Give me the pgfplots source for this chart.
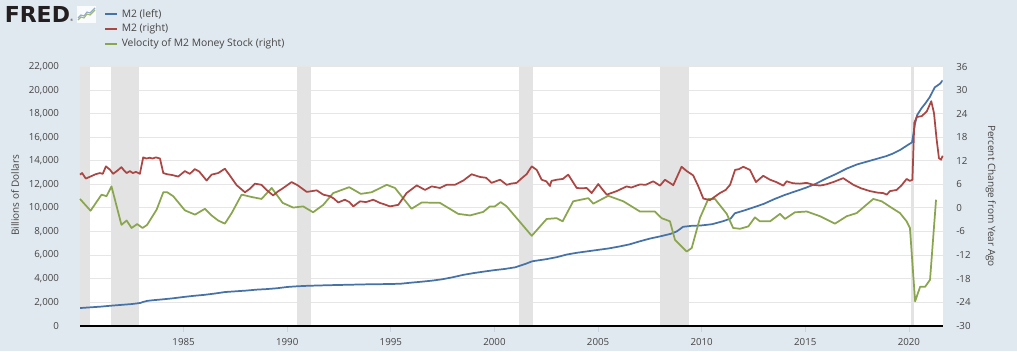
\documentclass[border=0pt]{standalone}
\usepackage{pgfplots}
\usepackage{pgfplotstable}
\pgfplotsset{compat=1.18}
\usepackage{fontspec}
\setmainfont{Open Sans}
\newfontfamily\fredfont{DejaVu Sans}
\definecolor{bg}{HTML}{E1E9F0}
\definecolor{m2blue}{HTML}{4572A7}
\definecolor{m2red}{HTML}{AA4643}
\definecolor{velgreen}{HTML}{89A54E}
\definecolor{gridc}{HTML}{E6E6E6}
\definecolor{recess}{HTML}{E3E3E3}
\definecolor{txt}{HTML}{444444}
\definecolor{tickc}{HTML}{C8D4DF}
\definecolor{logoc}{HTML}{231F20}

\pgfplotstableread{
year val
1980.00 1500
1980.50 1560
1981.00 1620
1981.50 1700
1982.00 1770
1982.50 1840
1982.90 1930
1983.05 2020
1983.25 2110
1983.50 2160
1984.00 2240
1984.50 2330
1985.00 2440
1985.50 2540
1986.00 2620
1986.50 2730
1987.00 2860
1987.50 2920
1988.00 2980
1988.50 3060
1989.00 3110
1989.50 3180
1990.00 3290
1990.50 3350
1991.00 3390
1992.00 3440
1993.00 3480
1994.00 3520
1995.00 3540
1995.50 3570
1996.00 3660
1996.50 3740
1997.00 3830
1997.50 3950
1998.00 4120
1998.50 4320
1999.00 4470
1999.50 4600
2000.00 4720
2000.50 4820
2001.00 4960
2001.50 5250
2001.80 5460
2002.00 5520
2002.50 5650
2003.00 5820
2003.50 6050
2004.00 6200
2004.50 6320
2005.00 6440
2005.50 6560
2006.00 6720
2006.50 6900
2007.00 7160
2007.50 7400
2008.00 7590
2008.50 7800
2008.80 8010
2009.10 8400
2009.50 8480
2010.00 8520
2010.50 8620
2011.00 8860
2011.40 9100
2011.60 9550
2012.00 9760
2012.50 10050
2013.00 10350
2013.50 10750
2014.00 11100
2014.50 11400
2015.00 11700
2015.50 12050
2016.00 12500
2016.50 12900
2017.00 13350
2017.50 13700
2018.00 13950
2018.50 14200
2018.90 14400
2019.20 14600
2019.60 14950
2019.90 15300
2020.15 15570
2020.30 17200
2020.40 17900
2020.60 18450
2020.80 18900
2021.00 19400
2021.25 20250
2021.50 20550
2021.63 20840
}\blueData

\pgfplotstableread{
year val
1980.00 8.5
1980.10 8.9
1980.28 7.5
1980.50 8.0
1980.75 8.6
1980.96 8.9
1981.10 8.7
1981.25 10.6
1981.44 9.8
1981.60 8.7
1981.80 9.5
1982.00 10.4
1982.12 9.6
1982.25 8.9
1982.41 9.4
1982.55 8.9
1982.70 9.2
1982.89 8.7
1983.05 12.9
1983.20 12.6
1983.37 12.8
1983.50 12.6
1983.66 12.9
1983.86 12.6
1984.02 8.9
1984.20 8.6
1984.45 8.4
1984.74 8.0
1985.06 9.4
1985.30 8.7
1985.54 9.9
1985.75 9.3
1986.11 7.0
1986.35 8.5
1986.67 8.9
1986.99 10.0
1987.20 8.5
1987.56 5.8
1987.96 4.0
1988.20 4.9
1988.44 6.2
1988.76 5.9
1989.00 4.6
1989.32 3.2
1989.55 4.2
1989.81 5.1
1990.21 6.6
1990.50 5.8
1990.94 4.1
1991.20 4.3
1991.42 4.5
1991.74 3.4
1992.06 3.0
1992.25 2.4
1992.46 1.4
1992.78 2.1
1993.00 1.5
1993.19 0.4
1993.51 1.7
1993.80 1.5
1994.15 2.1
1994.47 1.3
1994.70 0.9
1994.96 0.4
1995.36 0.8
1995.76 3.8
1996.25 5.75
1996.65 4.6
1996.97 5.5
1997.37 5.1
1997.69 5.9
1998.09 5.9
1998.50 7.0
1998.90 8.6
1999.30 7.9
1999.60 7.7
1999.86 6.4
2000.27 7.2
2000.59 5.9
2000.80 6.2
2001.07 6.4
2001.30 7.5
2001.55 8.6
2001.80 10.6
2002.04 9.7
2002.28 7.2
2002.50 6.8
2002.68 5.6
2002.75 6.9
2003.00 7.2
2003.30 7.4
2003.56 8.5
2003.97 5.1
2004.20 5.0
2004.45 5.1
2004.69 3.8
2005.01 6.1
2005.20 4.8
2005.42 3.4
2005.90 4.3
2006.38 5.5
2006.60 5.2
2007.02 6.0
2007.30 5.9
2007.66 6.8
2007.99 5.7
2008.23 7.2
2008.63 5.8
2009.03 10.5
2009.28 9.4
2009.59 8.3
2009.84 5.5
2010.08 2.4
2010.40 2.0
2010.88 3.8
2011.16 4.6
2011.37 5.9
2011.61 9.7
2011.80 9.9
2012.01 10.5
2012.33 9.7
2012.62 6.6
2012.97 8.2
2013.30 7.2
2013.60 6.6
2013.94 5.7
2014.10 6.8
2014.40 6.3
2014.74 6.2
2015.07 6.4
2015.40 5.9
2015.71 5.7
2016.00 6.0
2016.35 6.6
2016.83 7.6
2017.32 5.9
2017.70 5.0
2018.12 4.3
2018.50 3.9
2018.76 3.8
2018.93 3.4
2019.09 4.3
2019.41 4.6
2019.65 5.8
2019.89 7.4
2020.05 6.9
2020.17 7.2
2020.26 21.7
2020.38 23.2
2020.62 23.4
2020.86 24.6
2021.08 27.2
2021.21 24.2
2021.34 17.4
2021.45 12.7
2021.55 12.3
2021.63 13.3
}\redData

\pgfplotstableread{
year val
1980.00 2.3
1980.51 -0.7
1981.04 3.4
1981.28 3.0
1981.52 5.5
1982.00 -4.3
1982.25 -3.2
1982.49 -5.1
1982.76 -4.1
1983.02 -5.1
1983.24 -4.3
1983.70 -0.4
1984.02 4.0
1984.21 4.0
1984.50 3.0
1985.06 -0.6
1985.55 -1.7
1986.03 -0.2
1986.35 -1.9
1986.67 -3.2
1986.99 -4.0
1987.32 -1.3
1987.80 3.4
1988.28 2.8
1988.76 2.3
1989.25 5.1
1989.78 1.3
1990.29 0.1
1990.77 0.4
1991.25 -1.1
1991.74 0.8
1992.22 3.8
1992.99 5.3
1993.55 3.6
1994.07 4.0
1994.80 5.9
1995.20 5.1
1996.00 -0.2
1996.49 1.4
1997.37 1.3
1998.25 -1.5
1998.82 -1.9
1999.46 -1.0
1999.78 0.4
2000.02 0.4
2000.30 1.5
2000.59 0.4
2001.80 -7.1
2002.52 -2.8
2003.00 -2.6
2003.29 -3.4
2003.80 1.7
2004.53 2.5
2004.77 1.1
2005.49 3.1
2006.22 1.7
2007.02 -0.9
2007.74 -0.9
2008.07 -2.6
2008.47 -3.4
2008.71 -8.1
2009.28 -11.1
2009.52 -10.2
2009.92 -2.5
2010.32 2.3
2010.64 2.3
2011.21 -1.5
2011.52 -5.1
2011.85 -5.3
2012.25 -4.7
2012.57 -2.4
2012.81 -3.4
2013.30 -3.4
2013.78 -1.5
2014.02 -2.8
2014.50 -1.1
2015.07 -0.9
2015.71 -2.1
2016.43 -4.0
2017.00 -2.1
2017.48 -1.3
2018.28 2.3
2018.69 1.7
2019.09 0.3
2019.57 -1.3
2019.89 -3.4
2020.05 -5.1
2020.30 -23.8
2020.54 -20.1
2020.78 -20.1
2021.02 -18.3
2021.31 2.1
}\greenData

\pgfplotsset{
  every axis/.append style={
    /pgf/number format/assume math mode=true,
    tick label style={font=\fontsize{7.3}{8.5}\selectfont, text=txt},
  },
}

\begin{document}
\begin{tikzpicture}[x=0.75pt,y=0.75pt]
\fill[bg] (0,0) rectangle (1017,351);

% logo
\node[anchor=west, inner sep=0, text=logoc, font=\fredfont\bfseries\fontsize{16.5}{16.5}\selectfont] at (4.5,336.3) {FRED};
\node[anchor=west, inner sep=0, text=logoc, font=\fontsize{2.5}{3}\selectfont] at (70,330.5) {\textregistered};
\fill[white!80!bg] (77,345) rectangle (96,328);
\draw[velgreen!80, line width=0.8pt] (78,331) -- (81,334) -- (84,333) -- (87,337) -- (90,336) -- (95,341);
\draw[m2blue!60, line width=0.8pt] (78,333) -- (81,336) -- (84,335) -- (87,339) -- (90,338) -- (95,343);

% legend
\draw[m2blue, line width=1.5pt] (105,336.7) -- (117,336.7);
\node[anchor=west, inner sep=0, text=txt, font=\fontsize{7.75}{9}\selectfont] at (121.5,336.7) {M2 (left)};
\draw[m2red, line width=1.5pt] (105,321.7) -- (117,321.7);
\node[anchor=west, inner sep=0, text=txt, font=\fontsize{7.75}{9}\selectfont] at (121.5,321.7) {M2 (right)};
\draw[velgreen, line width=1.5pt] (105,307.3) -- (117,307.3);
\node[anchor=west, inner sep=0, text=txt, font=\fontsize{7.75}{9}\selectfont] at (121.5,307.3) {Velocity of M2 Money Stock (right)};

% axis titles
\node[rotate=90, text=txt, font=\fontsize{7.5}{9}\selectfont] at (15,155.5) {Billions of Dollars};
\node[rotate=-90, text=txt, font=\fontsize{7.5}{9}\selectfont] at (990.7,155) {Percent Change from Year Ago};

\begin{axis}[
  at={(60pt,18.975pt)}, anchor=south west,
  width=647pt, height=194.25pt, scale only axis,
  xmin=1980, xmax=2021.63, ymin=0, ymax=22000,
  axis line style={draw=none},
  axis background/.style={fill=white},
  ytick={0,2000,...,22000},
  scaled y ticks=false,
  yticklabel style={xshift=-7.2pt, /pgf/number format/fixed, /pgf/number format/1000 sep={,}},
  ymajorgrids, grid style={gridc, line width=0.75pt},
  xtick={1985,1990,...,2020},
  xticklabel style={yshift=-1pt, /pgf/number format/1000 sep={}},
  xtick pos=left, ytick pos=left,
  tick align=outside, major tick length=5pt,
  xtick style={draw=tickc, line width=0.6pt},
  ytick style={draw=none},
]
\addplot[fill=recess, draw=none] coordinates {(1980.0,0) (1980.5,0) (1980.5,22000) (1980.0,22000)} -- cycle;
\addplot[fill=recess, draw=none] coordinates {(1981.48,0) (1982.83,0) (1982.83,22000) (1981.48,22000)} -- cycle;
\addplot[fill=recess, draw=none] coordinates {(1990.48,0) (1991.13,0) (1991.13,22000) (1990.48,22000)} -- cycle;
\addplot[fill=recess, draw=none] coordinates {(2001.2,0) (2001.84,0) (2001.84,22000) (2001.2,22000)} -- cycle;
\addplot[fill=recess, draw=none] coordinates {(2007.99,0) (2009.41,0) (2009.41,22000) (2007.99,22000)} -- cycle;
\addplot[fill=recess, draw=none] coordinates {(2020.08,0) (2020.25,0) (2020.25,22000) (2020.08,22000)} -- cycle;
\addplot[m2blue, line width=1.3pt, line join=round] table[x=year, y=val] {\blueData};
\end{axis}

\begin{axis}[
  at={(60pt,18.975pt)}, anchor=south west,
  width=647pt, height=194.25pt, scale only axis,
  xmin=1980, xmax=2021.63, ymin=-30, ymax=36,
  axis line style={draw=none},
  ytick={-30,-24,...,36},
  ytick pos=right, xtick=\empty,
  yticklabel style={xshift=6.7pt},
  ytick style={draw=none},
  clip=false,
]
\addplot[velgreen, line width=1.3pt, line join=round] table[x=year, y=val] {\greenData};
\addplot[m2red, line width=1.3pt, line join=round] table[x=year, y=val] {\redData};
\draw[black, line width=1.5pt] (rel axis cs:0,0) -- (rel axis cs:1,0);
\end{axis}

\pgfresetboundingbox
\useasboundingbox (0,0) rectangle (1017,351);
\end{tikzpicture}
\end{document}
